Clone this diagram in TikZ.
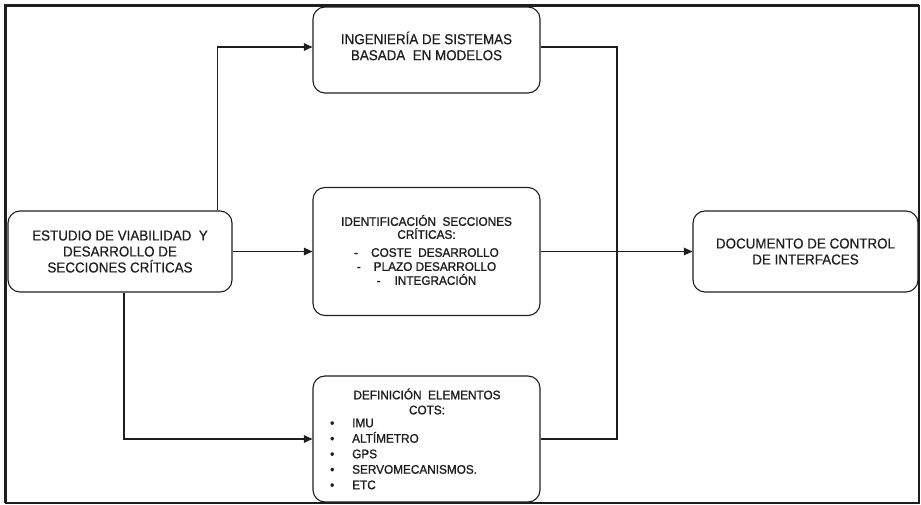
\documentclass[tikz,border=0pt]{standalone}
\usepackage{fontspec}
\setmainfont{Liberation Sans}
\newfontfamily\boxfont[FakeStretch=0.93, FakeBold=0.5]{Liberation Sans}
\newfontfamily\boxfontb[FakeStretch=0.95, FakeBold=1.2]{Liberation Sans}
\usetikzlibrary{arrows.meta}
\definecolor{ink}{HTML}{1E1E1E}
\begin{document}
\begin{tikzpicture}[x=1pt,y=-1pt,
  box/.style={draw=ink, line width=1.1pt, rounded corners=12pt, inner sep=0pt, align=center, text=ink},
  bigtxt/.style={font=\boxfont\fontsize{14.4}{16}\selectfont},
  smalltxt/.style={font=\boxfontb\fontsize{12.4}{14}\selectfont, text=ink, inner sep=0pt},
  conn/.style={draw=ink, line width=1.1pt},
  arr/.style={conn, -{Triangle[length=8.5pt,width=7.5pt]}}]
\useasboundingbox (0,0) rectangle (921,505);
% frame
\draw[ink, line width=1.8pt] (5.5,6) rectangle (919,503);
\draw[ink, line width=3pt] (5.5,503) -- (5.5,6) -- (919,6);
% boxes
\node[box, bigtxt, minimum width=224pt, minimum height=81pt] (A) at (120,251.5)
  {ESTUDIO DE VIABILIDAD\ \ Y\\DESARROLLO DE\\SECCIONES CRÍTICAS};
\node[box, minimum width=227pt, minimum height=86pt] (B) at (426.5,50) {};
\node[bigtxt, text=ink, align=center, inner sep=0pt] (Btxt) at ([yshift=4pt]B.center)
  {INGENIERÍA DE SISTEMAS\\BASADA\ \ EN MODELOS};
\node[box, minimum width=227pt, minimum height=128pt] (C) at (426.5,251.5) {};
\node[smalltxt, align=center] (Ctxt) at ([yshift=1.5pt]C.center)
  {IDENTIFICACIÓN\ \ SECCIONES\\[-1pt]CRÍTICAS:\\[4pt]
   -\hspace{13pt}COSTE\ \ DESARROLLO\\
   -\hspace{13pt}PLAZO DESARROLLO\\
   -\hspace{14pt}INTEGRACIÓN};
\node[box, minimum width=227pt, minimum height=126pt] (D) at (426.5,439) {};
\node[smalltxt, align=center, font=\boxfontb\fontsize{12.4}{15}\selectfont] (Dh) at (427,401.5)
  {DEFINICIÓN\ \ ELEMENTOS\\COTS:};
\node[smalltxt, align=left, anchor=west, font=\boxfontb\fontsize{12.4}{15.5}\selectfont] (Dl) at (330,454)
  {\makebox[22pt][l]{•}IMU\\
   \makebox[22pt][l]{•}ALTÍMETRO\\
   \makebox[22pt][l]{•}GPS\\
   \makebox[22pt][l]{•}SERVOMECANISMOS.\\
   \makebox[22pt][l]{•}ETC};
\node[box, bigtxt, minimum width=225pt, minimum height=81pt] (E) at (805.5,251.5)
  {DOCUMENTO DE CONTROL\\DE INTERFACES};
% connectors
\coordinate (a1) at ([xshift=-15pt]A.north east);
\coordinate (j) at (617,251.5);
\draw[arr] (a1) |- ([yshift=3pt]B.west);
\draw[arr] (A.east) -- (C.west);
\draw[arr] ([xshift=4pt]A.south) |- (D.west);
\draw[conn] ([yshift=3pt]B.east) -| (j) |- (D.east);
\draw[arr] (C.east) -- (E.west);
\end{tikzpicture}
\end{document}
